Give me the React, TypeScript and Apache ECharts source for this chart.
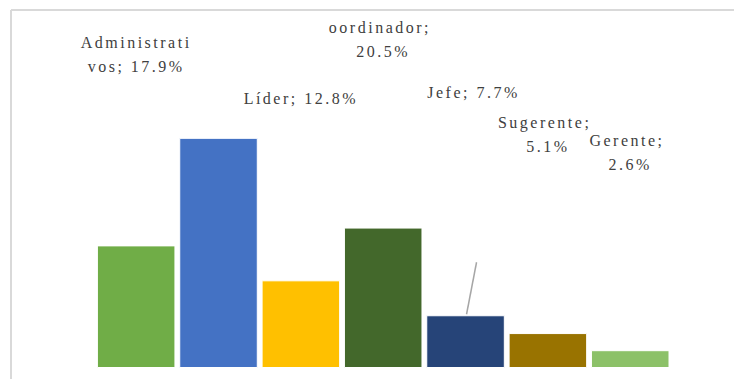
import { useEffect, useRef } from "react";
import * as echarts from "echarts";

// Category labels as they appear in the picture (the Coordinador label is cropped at the top;
// the blue bar's label is not visible).
const labelNames = ["Administrativos", "", "Líder", "oordinador", "Jefe", "Sugerente", "Gerente"];
const values = [17.9, 33.6, 12.8, 20.5, 7.7, 5.1, 2.6];

const barColors = ["#70AD47", "#4472C4", "#FFC000", "#43682B", "#264478", "#997300", "#8CC168"];
// label placement styles: [dx, dy, wrap width]
const labelStyles: [number, number, number][] = [
  [0, -162, 85],
  [0, 0, 200],
  [0, -165, 200],
  [0, -159, 90],
  [8, -206, 200],
  [0, -170, 80],
  [0, -169, 70],
];

export default function App() {
  const ref = useRef<HTMLDivElement>(null);
  useEffect(() => {
    if (!ref.current) return;
    const chart = echarts.init(ref.current, undefined, { renderer: "svg" });
    const data = values.map((v, i) => ({
      value: v,
      name: labelNames[i],
      itemStyle: { color: barColors[i] },
      label: {
        show: labelNames[i] !== "",
        offset: [labelStyles[i][0], labelStyles[i][1]],
        width: labelStyles[i][2],
      },
    }));
    chart.setOption({
      animation: false,
      grid: { left: 87, right: 62.6, top: 86, bottom: 11 },
      xAxis: {
        type: "category",
        data: labelNames,
        show: false,
      },
      yAxis: { type: "value", min: 0, max: 40, show: false },
      series: [
        {
          type: "bar",
          data,
          barCategoryGap: "4.6%",
          itemStyle: { borderColor: "#ffffff", borderWidth: 1 },
          label: {
            position: "top",
            distance: 5,
            fontFamily: "Liberation Serif",
            fontSize: 16,
            lineHeight: 24,
            color: "#404040",
            align: "center",
            overflow: "break",
            formatter: (p: any) => `${p.name}; ${p.value.toFixed(1)}%`,
          },
        },
      ],
    });
    const top = chart.convertToPixel({ seriesIndex: 0 }, [4, values[4]]) as number[];
    chart.setOption({
      graphic: [
        {
          type: "line",
          shape: { x1: 3, y1: 2, x2: 800, y2: 2 },
          style: { stroke: "#d9d9d9", lineWidth: 2 },
        },
        {
          type: "line",
          shape: { x1: 3, y1: 2, x2: 3, y2: 400 },
          style: { stroke: "#d9d9d9", lineWidth: 2 },
        },
        {
          type: "line",
          shape: { x1: top[0] + 11, y1: top[1] - 53, x2: top[0] + 1, y2: top[1] - 1 },
          style: { stroke: "#a6a6a6", lineWidth: 1.5 },
        },
      ],
    });
    ref.current.querySelectorAll("text").forEach((t) => {
      t.setAttribute("letter-spacing", "2.5");
    });
    return () => chart.dispose();
  }, []);
  return <div ref={ref} style={{ width: 726, height: 371 }} />;
}
